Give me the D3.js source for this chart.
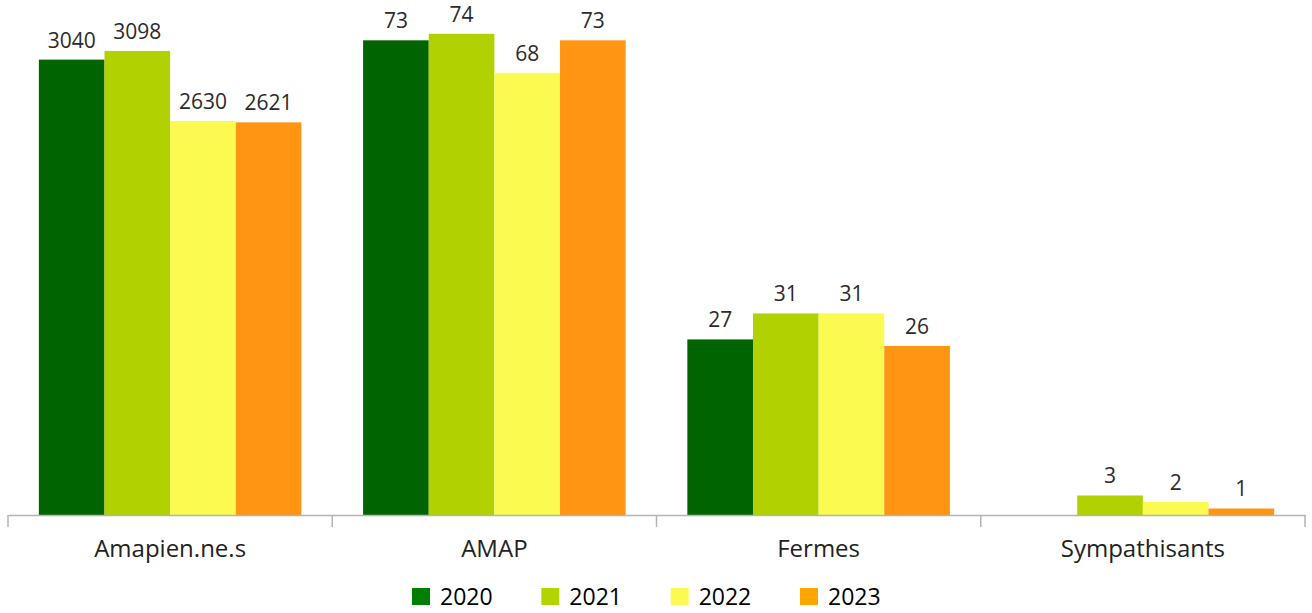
<!DOCTYPE html>
<html>
<head>
<meta charset="utf-8">
<script src="https://cdn.jsdelivr.net/npm/d3@7"></script>
<style>
  body { margin: 0; background: #fff; }
  text { font-family: "Open Sans", "Noto Sans", sans-serif; }
</style>
</head>
<body>
<div id="dataviz"></div>
<script>
// data
var categories = ["Amapien.ne.s", "AMAP", "Fermes", "Sympathisants"];
var years = ["2020", "2021", "2022", "2023"];
var values2020 = [3040, 73, 27, null];
var values2021 = [3098, 74, 31, 3];
var values2022 = [2630, 68, 31, 2];
var values2023 = [2621, 73, 26, 1];
var barColors = ["#006400", "#b2d100", "#fafa50", "#ff9512"];
var legendColors = ["#008000", "#b4d400", "#fafa50", "#ffa500"];

var series = [values2020, values2021, values2022, values2023];

var width = 1312;
var height = 613;
var baseline = 515;

var svg = d3.select("#dataviz")
  .append("svg")
    .attr("width", width)
    .attr("height", height);

var x0 = d3.scaleBand()
  .domain(categories)
  .range([8, 1305])
  .padding(0);

var x1 = d3.scaleBand()
  .domain(years)
  .range([0, x0.bandwidth()])
  .paddingInner(0)
  .paddingOuter(0.47);

// people counted on its own scale, the other groups share one
var yPeople = d3.scaleLinear().domain([0, 3438]).range([baseline, 0]);
var yCount = d3.scaleLinear().domain([0, 79.2]).range([baseline, 0]);
function yFor(cat) { return cat === "Amapien.ne.s" ? yPeople : yCount; }

var rows = [];
categories.forEach(function(c, i) {
  years.forEach(function(yr, j) {
    if (series[j][i] != null) rows.push({cat: c, year: yr, value: series[j][i], color: barColors[j]});
  });
});

svg.append("g").selectAll("rect")
  .data(rows)
  .enter()
  .append("rect")
    .attr("x", function(d) { return x0(d.cat) + x1(d.year); })
    .attr("y", function(d) { return yFor(d.cat)(d.value); })
    .attr("width", x1.bandwidth())
    .attr("height", function(d) { return baseline - yFor(d.cat)(d.value); })
    .style("fill", function(d) { return d.color; });

svg.append("g").selectAll("text")
  .data(rows)
  .enter()
  .append("text")
    .attr("x", function(d) { return x0(d.cat) + x1(d.year) + x1.bandwidth() / 2; })
    .attr("y", function(d) { return yFor(d.cat)(d.value) - 12; })
    .attr("text-anchor", "middle")
    .style("font-size", "21px")
    .style("fill", "#2b2b2b")
    .text(function(d) { return d.value; });

// axis: labels centered, ticks at the band edges
var axis = svg.append("g")
  .attr("transform", "translate(0," + baseline + ")")
  .call(d3.axisBottom(x0).tickSize(0).tickPadding(25));
axis.select(".domain").attr("stroke", "#b4b4b4").attr("stroke-width", 1.5);
axis.selectAll("text")
  .style("font-size", "24px")
  .style("fill", "#222");

var edges = categories.map(function(c) { return x0(c); }).concat([x0.range()[1]]);
axis.selectAll(".edge")
  .data(edges)
  .enter()
  .append("line")
    .attr("class", "edge")
    .attr("x1", function(d) { return d; })
    .attr("x2", function(d) { return d; })
    .attr("y1", 0)
    .attr("y2", 12)
    .attr("stroke", "#b4b4b4")
    .attr("stroke-width", 1.5);

// legend
var legendX = d3.scalePoint().domain(years).range([412, 800]);
var legend = svg.append("g").selectAll("g")
  .data(years)
  .enter()
  .append("g")
    .attr("transform", function(d) { return "translate(" + legendX(d) + ",588)"; });
legend.append("rect")
  .attr("width", 18)
  .attr("height", 17)
  .style("fill", function(d, i) { return legendColors[i]; });
legend.append("text")
  .attr("x", 28)
  .attr("y", 17)
  .style("font-size", "23px")
  .style("fill", "#000")
  .text(function(d) { return d; });
</script>
</body>
</html>
